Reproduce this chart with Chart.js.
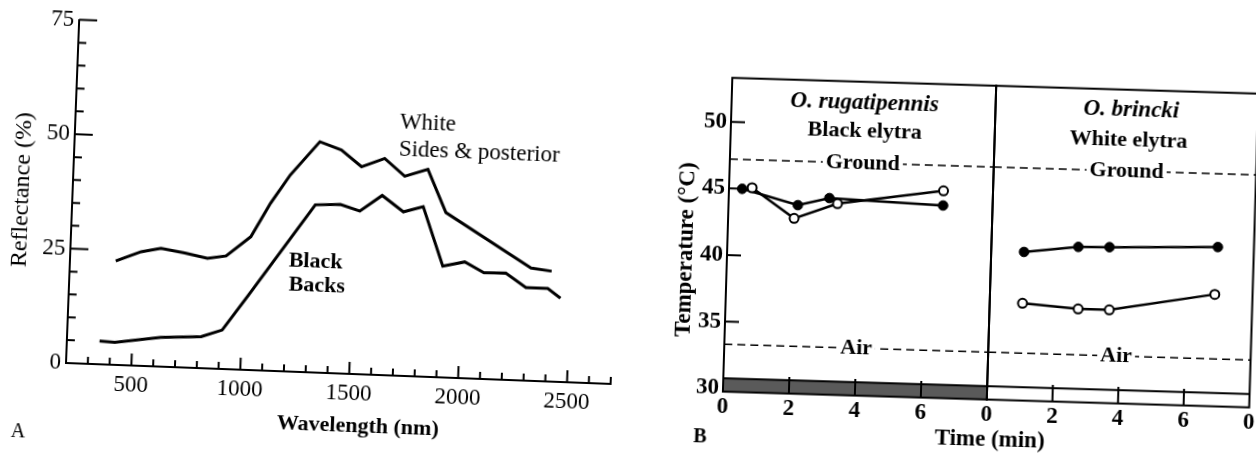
<!DOCTYPE html>
<html>
<head>
<meta charset="utf-8">
<title>Reflectance spectra and body temperatures of Onymacris beetles</title>
<script src="https://cdn.jsdelivr.net/npm/chart.js@4.4.1/dist/chart.umd.min.js"></script>
<style>
  html, body { margin:0; padding:0; width:1256px; height:460px; overflow:hidden; background:#fff; }
  .panel { position:absolute; left:0; top:0; width:1256px; height:460px; }
  #panelA { transform-origin: 66px 363px; transform: rotate(2.2deg); }
  #panelB { transform-origin: 723px 388.3px; transform: rotate(1.72deg); }
  canvas { position:absolute; top:0; }
</style>
</head>
<body>
<div id="panelA" class="panel"><canvas id="chartA" width="640" height="460" style="left:0px"></canvas></div>
<div id="panelB" class="panel">
  <canvas id="chartB1" width="616" height="460" style="left:640px"></canvas>
  <canvas id="chartB2" width="296" height="460" style="left:960px"></canvas>
</div>
<script>
// ---------------- Panel A: reflectance spectra ----------------
const wavelengthBlack  = [350, 420, 630, 815, 910, 1020, 1315, 1430, 1520, 1620, 1720, 1810, 1910, 2010, 2100, 2200, 2295, 2395, 2455];
const reflectanceBlack = [5.1, 4.9, 6.4, 6.9, 8.5, 16.0, 36.6, 36.9, 35.6, 39.2, 35.8, 37.1, 24.3, 25.4, 23.2, 23.3, 20.3, 20.3, 18.3];
const wavelengthWhite  = [410, 525, 615, 725, 830, 915, 1025, 1110, 1195, 1325, 1425, 1520, 1625, 1720, 1825, 1915, 2315, 2410];
const reflectanceWhite = [22.7, 24.9, 25.8, 25.0, 24.0, 24.7, 29.1, 36.6, 42.9, 50.4, 48.8, 45.3, 47.3, 43.6, 45.3, 36.0, 24.6, 24.1];
const reflectanceTickLabels = [0, 25, 50, 75];
const wavelengthTickLabels  = [500, 1000, 1500, 2000, 2500];

// ---------------- Panel B: body temperatures ----------------
const timeRugatipennisFilled = [0.4, 2.1, 3.05, 6.5];
const tempRugatipennisFilled = [45.0, 43.9, 44.5, 44.2];
const timeRugatipennisOpen   = [0.7, 2.0, 3.3, 6.5];
const tempRugatipennisOpen   = [45.1, 42.9, 44.1, 45.3];
const timeBrinckiFilled = [1.0, 2.65, 3.6, 6.9];
const tempBrinckiFilled = [40.9, 41.4, 41.45, 41.7];
const timeBrinckiOpen   = [1.0, 2.7, 3.65, 6.85];
const tempBrinckiOpen   = [37.05, 36.75, 36.75, 38.15];
const referenceNames = ['Ground', 'Air'];
const referenceTemps = [47.2, 33.3];
const temperatureTicks = [30, 35, 40, 45, 50];
const timeTicks = [0, 2, 4, 6, 8];
const timeTickLabelsB1 = ['0', '2', '4', '6', ''];
const timeTickLabelsB2 = ['0', '2', '4', '6', '0'];

// ---------------- helpers ----------------
const SERIF = '"Liberation Serif", "Times New Roman", serif';
Chart.defaults.font.family = SERIF;
Chart.defaults.color = '#000';
function pts(xs, ys) { return xs.map((x, i) => ({ x: x, y: ys[i] })); }
function drawText(ctx, text, x, y, font, opts) {
  opts = opts || {};
  ctx.save();
  ctx.font = font;
  ctx.textAlign = opts.align || 'center';
  ctx.textBaseline = 'middle';
  ctx.translate(x, y);
  if (opts.rotate) ctx.rotate(opts.rotate);
  if (opts.bg) {
    const w = ctx.measureText(text).width;
    const x0 = (opts.align === 'left') ? 0 : -w / 2;
    ctx.fillStyle = '#fff';
    ctx.fillRect(x0 - 3, -opts.bg / 2, w + 6, opts.bg);
  }
  ctx.fillStyle = '#000';
  ctx.fillText(text, 0, 0);
  ctx.restore();
}
function zeroPadX(s) { s.paddingLeft = 0; s.paddingRight = 0; }
function zeroPadY(s) { s.paddingTop = 0; s.paddingBottom = 0; }

// ---------------- Chart A ----------------
const annotationsA = [
  { text: 'White',             x: 1688, y: 55.3, font: 'normal 23px ' + SERIF },
  { text: 'Sides & posterior', x: 1688, y: 49.3, font: 'normal 23px ' + SERIF },
  { text: 'Black',             x: 1203, y: 24.2, font: 'bold 22px ' + SERIF },
  { text: 'Backs',             x: 1207, y: 18.9, font: 'bold 22px ' + SERIF }
];
const decorA = {
  id: 'decorA',
  afterDraw(chart) {
    const { ctx, chartArea: a, scales: { x, y } } = chart;
    ctx.save();
    ctx.strokeStyle = '#000';
    ctx.lineWidth = 2;
    ctx.beginPath();
    y.ticks.forEach(t => {
      if (t.value <= y.min) return;
      const py = y.getPixelForValue(t.value);
      const len = reflectanceTickLabels.includes(t.value) ? 18 : 8;
      ctx.moveTo(a.left, py); ctx.lineTo(a.left + len, py);
    });
    x.ticks.forEach(t => {
      if (t.value <= x.min) return;
      const px = x.getPixelForValue(t.value);
      const len = wavelengthTickLabels.includes(t.value) ? 12 : 7;
      ctx.moveTo(px, a.bottom); ctx.lineTo(px, a.bottom - len);
    });
    ctx.stroke();
    ctx.restore();
    annotationsA.forEach(n => drawText(ctx, n.text, x.getPixelForValue(n.x), y.getPixelForValue(n.y), n.font, { align: 'left' }));
    drawText(ctx, 'Reflectance (%)', a.left - 50.6, a.top + 172, 'normal 24px ' + SERIF, { rotate: -Math.PI / 2 });
    drawText(ctx, 'Wavelength (nm)', a.left + 294, a.bottom + 52.7, 'bold 22px ' + SERIF);
    drawText(ctx, 'A', a.left - 45.3, a.bottom + 70.8, 'normal 20px ' + SERIF);
  }
};

new Chart(document.getElementById('chartA'), {
  type: 'line',
  data: {
    datasets: [
      { label: 'White: Sides & posterior', data: pts(wavelengthWhite, reflectanceWhite),
        borderColor: '#000', borderWidth: 3, pointRadius: 0, tension: 0, fill: false },
      { label: 'Black: Backs', data: pts(wavelengthBlack, reflectanceBlack),
        borderColor: '#000', borderWidth: 3, pointRadius: 0, tension: 0, fill: false }
    ]
  },
  options: {
    responsive: false, animation: false, devicePixelRatio: 1,
    layout: { padding: { left: 0, top: 19.5, right: 29, bottom: 0 } },
    plugins: { legend: { display: false }, tooltip: { enabled: false } },
    scales: {
      x: {
        type: 'linear', min: 200, max: 2700,
        afterBuildTicks: s => { const t = []; for (let v = 200; v <= 2700; v += 100) t.push({ value: v }); s.ticks = t; },
        afterFit: s => { s.height = 97; zeroPadX(s); },
        grid: { display: false, drawTicks: false },
        border: { display: true, color: '#000', width: 2 },
        ticks: { autoSkip: false, maxRotation: 0, padding: 6, font: { size: 23 },
                 callback: v => wavelengthTickLabels.includes(v) ? String(v) : '' }
      },
      y: {
        type: 'linear', min: 0, max: 75,
        afterBuildTicks: s => { const t = []; for (let v = 0; v <= 75; v += 5) t.push({ value: v }); s.ticks = t; },
        afterFit: s => { s.width = 66; zeroPadY(s); },
        grid: { display: false, drawTicks: false },
        border: { display: true, color: '#000', width: 2 },
        ticks: { autoSkip: false, padding: 5, font: { size: 23 },
                 callback: v => reflectanceTickLabels.includes(v) ? String(v) : '' }
      }
    }
  },
  plugins: [decorA]
});

// ---------------- Chart B (two sub-panels) ----------------
const bandTopTemp = 30.75;
const tickTopTemp = 31.0;
function makeDecorB(cfg) {
  return {
    id: 'decorB',
    afterDraw(chart) {
      const { ctx, chartArea: a, scales: { x, y } } = chart;
      const yBand = y.getPixelForValue(bandTopTemp);
      ctx.save();
      if (cfg.bandFill) {
        ctx.fillStyle = '#5a5a5a';
        ctx.fillRect(a.left, yBand, a.width, a.bottom - yBand);
      }
      ctx.strokeStyle = '#000';
      ctx.lineWidth = 2;
      ctx.strokeRect(a.left, a.top, a.width, a.height);
      ctx.beginPath();
      ctx.moveTo(a.left, yBand); ctx.lineTo(a.right, yBand);
      const yTickTop = y.getPixelForValue(tickTopTemp);
      x.ticks.forEach(t => {
        if (t.value <= x.min || t.value >= x.max) return;
        const px = x.getPixelForValue(t.value);
        ctx.moveTo(px, a.bottom); ctx.lineTo(px, yTickTop);
      });
      if (cfg.yTicks) {
        y.ticks.forEach(t => {
          if (t.value <= 30) return;
          const py = y.getPixelForValue(t.value);
          ctx.moveTo(a.left, py); ctx.lineTo(a.left + 14, py);
        });
      }
      ctx.stroke();
      ctx.restore();
      cfg.labels.forEach(n => drawText(ctx, n.text, x.getPixelForValue(n.x), y.getPixelForValue(n.y), n.font, { bg: n.bg }));
      if (cfg.extra) cfg.extra(ctx, a);
    }
  };
}
function datasetsB(tFilled, TFilled, tOpen, TOpen) {
  const ds = [
    { label: 'Open symbols', data: pts(tOpen, TOpen), borderColor: '#000', borderWidth: 2.5,
      pointRadius: 4.5, pointBackgroundColor: '#fff', pointBorderColor: '#000', pointBorderWidth: 2, tension: 0 },
    { label: 'Filled symbols', data: pts(tFilled, TFilled), borderColor: '#000', borderWidth: 2.5,
      pointRadius: 4.8, pointBackgroundColor: '#000', pointBorderColor: '#000', pointBorderWidth: 1, tension: 0 }
  ];
  referenceTemps.forEach((T, k) => ds.push({
    label: referenceNames[k], data: [{ x: timeTicks[0], y: T }, { x: timeTicks[timeTicks.length - 1], y: T }],
    borderColor: '#000', borderWidth: 1.6, borderDash: [8, 5], pointRadius: 0, tension: 0
  }));
  return ds;
}
function optionsB(padding, showY, tickLabels) {
  return {
    responsive: false, animation: false, devicePixelRatio: 1,
    layout: { padding: padding },
    plugins: { legend: { display: false }, tooltip: { enabled: false } },
    scales: {
      x: {
        type: 'linear', min: 0, max: 8,
        afterBuildTicks: s => { s.ticks = timeTicks.map(v => ({ value: v })); },
        afterFit: s => { s.height = 68.4; zeroPadX(s); },
        grid: { display: false, drawTicks: false },
        border: { display: false },
        ticks: { autoSkip: false, maxRotation: 0, padding: 2, font: { size: 23, weight: 'bold' },
                 callback: v => tickLabels[timeTicks.indexOf(v)] }
      },
      y: {
        type: 'linear', min: 29.75, max: 53.3, display: showY,
        afterBuildTicks: s => { s.ticks = temperatureTicks.map(v => ({ value: v })); },
        afterFit: s => { s.width = showY ? 83 : 0; zeroPadY(s); },
        grid: { display: false, drawTicks: false },
        border: { display: false },
        ticks: { autoSkip: false, padding: 4, font: { size: 23, weight: 'bold' }, callback: v => String(v) }
      }
    }
  };
}
const labelFontB = 'bold 22px ' + SERIF;
const speciesFontB = 'italic bold 23px ' + SERIF;

new Chart(document.getElementById('chartB1'), {
  type: 'line',
  data: { datasets: datasetsB(timeRugatipennisFilled, tempRugatipennisFilled, timeRugatipennisOpen, tempRugatipennisOpen) },
  options: optionsB({ left: 0, top: 77.7, right: 269, bottom: 0 }, true, timeTickLabelsB1),
  plugins: [makeDecorB({
    bandFill: true, yTicks: true,
    labels: [
      { text: 'O. rugatipennis', x: 4.03, y: 51.7, font: speciesFontB },
      { text: 'Black elytra', x: 4.06, y: 49.57, font: labelFontB },
      { text: referenceNames[0], x: 4.03, y: referenceTemps[0], font: labelFontB, bg: 16 },
      { text: referenceNames[1], x: 4.0, y: referenceTemps[1], font: labelFontB, bg: 16 }
    ],
    extra: (ctx, a) => {
      drawText(ctx, 'Temperature (°C)', a.left - 41.2, a.top + 173, 'bold 23px ' + SERIF, { rotate: -Math.PI / 2 });
      drawText(ctx, 'Time (min)', a.right + 4, a.bottom + 40.4, 'bold 23px ' + SERIF);
      drawText(ctx, 'B', a.left - 21.5, a.bottom + 46, 'bold 20px ' + SERIF);
    }
  })]
});

new Chart(document.getElementById('chartB2'), {
  type: 'line',
  data: { datasets: datasetsB(timeBrinckiFilled, tempBrinckiFilled, timeBrinckiOpen, tempBrinckiOpen) },
  options: optionsB({ left: 27, top: 77.7, right: 3, bottom: 0 }, false, timeTickLabelsB2),
  plugins: [makeDecorB({
    bandFill: false, yTicks: false,
    labels: [
      { text: 'O. brincki', x: 4.14, y: 51.8, font: speciesFontB },
      { text: 'White elytra', x: 4.08, y: 49.54, font: labelFontB },
      { text: referenceNames[0], x: 4.05, y: referenceTemps[0], font: labelFontB, bg: 16 },
      { text: referenceNames[1], x: 3.9, y: referenceTemps[1], font: labelFontB, bg: 16 }
    ]
  })]
});
</script>
</body>
</html>
